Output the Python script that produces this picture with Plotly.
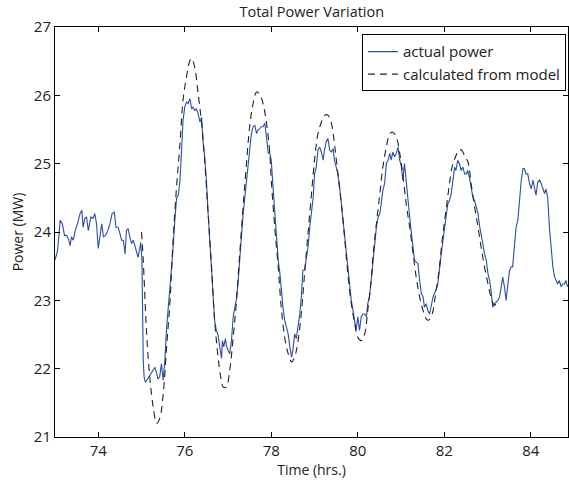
"""Total Power Variation: measured power vs. model output."""

import plotly.graph_objects as go

# ── Dati ────────────────────────────────────────

time_actual = [
    73.00, 73.06, 73.12, 73.17, 73.22, 73.27, 73.31, 73.35, 73.38, 73.42,
    73.48, 73.52, 73.58, 73.62, 73.65, 73.69, 73.73, 73.77, 73.83, 73.88,
    73.92, 73.96, 74.00, 74.04, 74.08, 74.12, 74.17, 74.22, 74.27, 74.32,
    74.37, 74.41, 74.46, 74.50, 74.54, 74.58, 74.62, 74.65, 74.69, 74.73,
    74.77, 74.81, 74.85, 74.88, 74.92, 74.96, 74.98, 75.01, 75.02, 75.04,
    75.06, 75.09, 75.14, 75.19, 75.23, 75.27, 75.31, 75.35, 75.38, 75.42,
    75.46, 75.50, 75.54, 75.58, 75.62, 75.67, 75.72, 75.77, 75.81, 75.85,
    75.89, 75.93, 75.96, 76.00, 76.04, 76.08, 76.12, 76.16, 76.19, 76.23,
    76.27, 76.31, 76.35, 76.39, 76.42, 76.46, 76.50, 76.54, 76.58, 76.62,
    76.66, 76.69, 76.73, 76.77, 76.81, 76.85, 76.87, 76.90, 76.94, 76.96,
    77.00, 77.04, 77.08, 77.12, 77.16, 77.19, 77.23, 77.27, 77.31, 77.35,
    77.39, 77.42, 77.46, 77.50, 77.54, 77.58, 77.62, 77.66, 77.69, 77.73,
    77.77, 77.81, 77.85, 77.89, 77.93, 77.96, 78.00, 78.04, 78.08, 78.12,
    78.16, 78.20, 78.23, 78.27, 78.31, 78.35, 78.39, 78.43, 78.47, 78.50,
    78.54, 78.58, 78.62, 78.66, 78.70, 78.73, 78.77, 78.81, 78.85, 78.89,
    78.93, 78.97, 79.00, 79.04, 79.08, 79.12, 79.16, 79.20, 79.23, 79.27,
    79.31, 79.35, 79.39, 79.43, 79.46, 79.50, 79.54, 79.58, 79.62, 79.66,
    79.70, 79.73, 79.77, 79.81, 79.85, 79.89, 79.93, 79.96, 80.00, 80.04,
    80.08, 80.12, 80.16, 80.20, 80.23, 80.27, 80.31, 80.35, 80.39, 80.43,
    80.47, 80.51, 80.54, 80.58, 80.62, 80.66, 80.70, 80.74, 80.77, 80.81,
    80.85, 80.89, 80.93, 80.97, 81.01, 81.04, 81.08, 81.12, 81.16, 81.20,
    81.24, 81.27, 81.31, 81.35, 81.39, 81.43, 81.47, 81.51, 81.54, 81.58,
    81.62, 81.66, 81.70, 81.74, 81.77, 81.81, 81.85, 81.89, 81.93, 81.97,
    82.01, 82.04, 82.08, 82.12, 82.16, 82.20, 82.24, 82.27, 82.31, 82.35,
    82.39, 82.43, 82.47, 82.51, 82.54, 82.58, 82.62, 82.66, 82.70, 82.74,
    82.78, 82.82, 82.85, 82.89, 82.93, 82.97, 83.01, 83.05, 83.08, 83.12,
    83.16, 83.20, 83.24, 83.28, 83.32, 83.35, 83.39, 83.43, 83.47, 83.51,
    83.55, 83.58, 83.62, 83.66, 83.70, 83.74, 83.78, 83.82, 83.85, 83.89,
    83.93, 83.97, 84.01, 84.05, 84.08, 84.12, 84.16, 84.20, 84.24, 84.28,
    84.32, 84.35, 84.39, 84.43, 84.47, 84.51, 84.55, 84.58, 84.62, 84.66,
    84.70, 84.74, 84.78, 84.81, 84.85, 84.87,
]

power_actual = [
    23.59, 23.73, 24.17, 24.12, 23.95, 23.95, 23.90, 23.80, 23.93, 23.88,
    24.05, 24.12, 24.27, 24.32, 24.07, 24.20, 24.22, 24.02, 24.22, 24.20,
    24.27, 24.12, 23.76, 23.98, 24.12, 23.93, 23.95, 24.02, 24.12, 24.27,
    24.29, 24.07, 24.07, 23.98, 23.88, 23.88, 23.68, 24.02, 24.05, 23.93,
    23.83, 23.88, 23.78, 23.73, 23.63, 23.76, 23.85, 23.59, 22.60, 22.12,
    21.88, 21.80, 21.85, 21.90, 21.93, 21.98, 22.02, 21.93, 21.85, 21.88,
    22.07, 21.83, 22.12, 22.60, 22.90, 23.29, 23.68, 24.17, 24.49, 24.54,
    24.76, 25.24, 25.63, 25.83, 25.90, 25.88, 25.95, 25.80, 25.83, 25.78,
    25.80, 25.73, 25.61, 25.68, 25.34, 25.10, 24.76, 24.27, 23.83, 23.34,
    22.85, 22.71, 22.56, 22.49, 22.32, 22.15, 22.41, 22.32, 22.44, 22.34,
    22.27, 22.22, 22.41, 22.76, 22.90, 23.00, 23.24, 23.68, 23.93, 24.27,
    24.51, 24.76, 24.90, 25.20, 25.44, 25.54, 25.56, 25.44, 25.49, 25.51,
    25.54, 25.54, 25.59, 25.39, 25.15, 25.17, 25.05, 24.66, 24.27, 23.88,
    23.59, 23.39, 23.15, 22.90, 22.71, 22.61, 22.51, 22.32, 22.17, 22.27,
    22.51, 22.44, 22.61, 22.80, 23.10, 23.44, 23.44, 23.59, 23.78, 24.07,
    24.27, 24.51, 24.85, 24.95, 25.20, 25.24, 25.17, 25.05, 25.20, 25.32,
    25.37, 25.20, 25.17, 25.22, 25.05, 24.95, 24.85, 24.66, 24.41, 24.17,
    23.88, 23.68, 23.49, 23.20, 23.00, 22.85, 22.71, 22.56, 22.76, 22.56,
    22.76, 22.80, 22.80, 22.76, 22.95, 23.05, 23.29, 23.59, 23.83, 24.07,
    24.22, 24.27, 24.41, 24.61, 24.71, 25.00, 25.05, 25.15, 25.05, 25.17,
    25.10, 25.15, 25.24, 25.05, 24.95, 24.76, 25.00, 24.71, 24.46, 24.22,
    23.98, 23.78, 23.59, 23.56, 23.54, 23.29, 23.10, 23.05, 22.90, 22.95,
    22.85, 22.80, 22.95, 23.05, 23.10, 23.15, 23.24, 23.49, 23.68, 23.88,
    24.07, 24.17, 24.41, 24.46, 24.56, 24.76, 24.95, 24.90, 25.05, 25.00,
    24.90, 24.95, 24.85, 24.85, 24.90, 24.80, 24.66, 24.51, 24.46, 24.37,
    24.27, 24.07, 23.98, 23.83, 23.68, 23.59, 23.39, 23.29, 23.15, 22.90,
    22.95, 22.98, 23.00, 23.05, 23.20, 23.34, 23.20, 23.00, 23.24, 23.44,
    23.49, 23.49, 23.78, 24.07, 24.17, 24.51, 24.76, 24.93, 24.93, 24.85,
    24.85, 24.71, 24.63, 24.76, 24.66, 24.54, 24.73, 24.76, 24.71, 24.63,
    24.56, 24.63, 24.51, 24.07, 23.73, 23.49, 23.34, 23.29, 23.24, 23.29,
    23.20, 23.24, 23.24, 23.29, 23.20, 23.22,
]

time_model = [
    75.00, 75.04, 75.12, 75.19, 75.27, 75.35, 75.42, 75.50, 75.58, 75.66,
    75.73, 75.81, 75.89, 75.96, 76.04, 76.12, 76.16, 76.23, 76.31, 76.39,
    76.46, 76.54, 76.62, 76.69, 76.77, 76.83, 76.89, 76.96, 77.04, 77.12,
    77.19, 77.27, 77.35, 77.42, 77.50, 77.58, 77.66, 77.73, 77.81, 77.89,
    77.96, 78.00, 78.08, 78.16, 78.23, 78.31, 78.39, 78.47, 78.54, 78.62,
    78.70, 78.77, 78.85, 78.93, 79.00, 79.08, 79.16, 79.24, 79.31, 79.39,
    79.47, 79.54, 79.62, 79.70, 79.77, 79.85, 79.93, 80.00, 80.08, 80.16,
    80.23, 80.31, 80.35, 80.43, 80.51, 80.58, 80.66, 80.74, 80.81, 80.89,
    80.97, 81.04, 81.12, 81.20, 81.28, 81.35, 81.43, 81.51, 81.58, 81.64,
    81.72, 81.80, 81.88, 81.95, 82.03, 82.11, 82.18, 82.26, 82.34, 82.40,
    82.48, 82.55, 82.62, 82.70, 82.78, 82.85, 82.93, 83.01, 83.08, 83.16,
    83.24,
]

power_model = [
    24.00, 23.59, 22.50, 21.88, 21.44, 21.20, 21.27, 21.62, 22.32, 23.00,
    23.88, 24.66, 25.30, 25.93, 26.27, 26.51, 26.54, 26.41, 26.02, 25.59,
    25.05, 24.27, 23.49, 22.71, 22.17, 21.88, 21.73, 21.73, 21.98, 22.46,
    22.95, 23.68, 24.37, 24.95, 25.54, 25.88, 26.05, 26.02, 25.88, 25.59,
    25.20, 24.76, 24.07, 23.49, 22.90, 22.46, 22.22, 22.10, 22.17, 22.41,
    22.85, 23.39, 23.98, 24.56, 25.05, 25.44, 25.61, 25.71, 25.71, 25.59,
    25.24, 24.85, 24.41, 23.88, 23.39, 22.95, 22.66, 22.46, 22.41, 22.51,
    22.85, 23.30, 23.63, 24.12, 24.56, 24.95, 25.24, 25.44, 25.46, 25.39,
    25.15, 24.85, 24.41, 24.07, 23.68, 23.34, 23.05, 22.85, 22.73, 22.71,
    22.80, 23.10, 23.44, 23.88, 24.27, 24.66, 24.95, 25.10, 25.20, 25.20,
    25.10, 25.02, 24.71, 24.37, 24.07, 23.78, 23.49, 23.24, 23.05, 22.93,
    22.98,
]

x_ticks = [74, 76, 78, 80, 82, 84]
y_ticks = [21, 22, 23, 24, 25, 26, 27]

_FONT = "Open Sans, Noto Sans, DejaVu Sans, sans-serif"

fig = go.Figure()
fig.add_trace(go.Scatter(
    x=time_actual, y=power_actual, mode="lines", name="actual power",
    line=dict(color="#2c4ea6", width=1.1),
))
fig.add_trace(go.Scatter(
    x=time_model, y=power_model, mode="lines", name="calculated from model",
    line=dict(color="#222222", width=1.1, dash="7px,5px", shape="spline"),
))

_axis = dict(
    showline=True, linecolor="black", linewidth=1, mirror="ticks",
    ticks="inside", ticklen=5, tickcolor="black", showgrid=False, zeroline=False,
    tickfont=dict(size=15, color="#222"),
)

fig.update_layout(
    width=569, height=485,
    paper_bgcolor="white", plot_bgcolor="white",
    font=dict(family=_FONT, color="#222"),
    margin=dict(l=55, r=1, t=27, b=48),
    title=dict(text="Total Power Variation", x=0.548, xanchor="center",
               y=0.975, yanchor="middle", font=dict(size=14.5)),
    xaxis=dict(range=[73, 84.86], tickvals=x_ticks,
               title=dict(text="Time (hrs.)", font=dict(size=14), standoff=4), **_axis),
    yaxis=dict(range=[21, 27], tickvals=y_ticks,
               title=dict(text="Power (MW)", font=dict(size=14), standoff=6), **_axis),
    legend=dict(x=0.996, xanchor="right", y=0.982, yanchor="top",
                bordercolor="black", borderwidth=1, bgcolor="white",
                font=dict(size=15), tracegroupgap=0),
    showlegend=True,
)

# la pagina ha un margine di default di 8px: lo togliamo
fig.write_html("out.html", config={"displayModeBar": False},
               post_script="document.body.style.margin='0';")
